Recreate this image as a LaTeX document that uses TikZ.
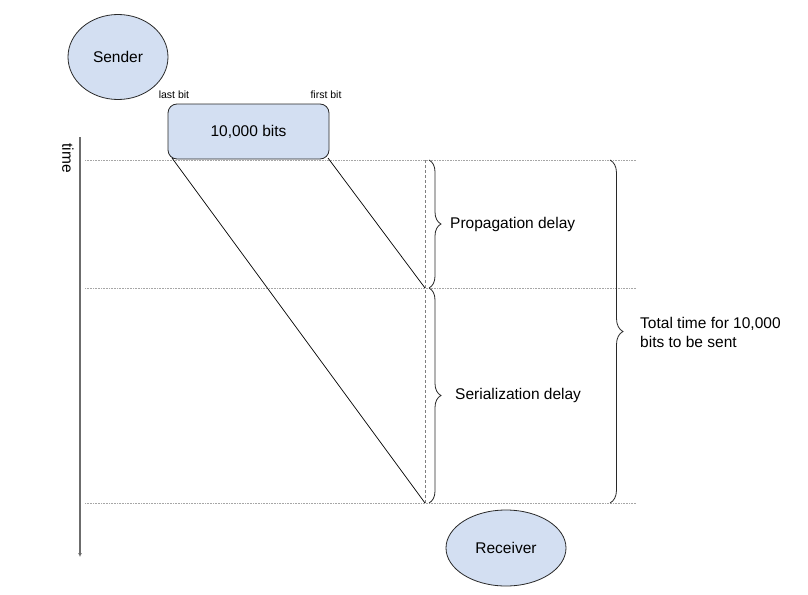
\documentclass[tikz,border=0pt]{standalone}
\usepackage{fontspec}
\setmainfont{Liberation Sans}
\usetikzlibrary{decorations.pathreplacing,arrows.meta,shapes.geometric}
\definecolor{fillblue}{RGB}{211,223,242}
\definecolor{edge}{RGB}{40,40,40}
\tikzset{
  blob/.style={draw=edge, line width=0.8pt, fill=fillblue, shape=ellipse, inner sep=0pt},
  bitsbox/.style={draw=edge, line width=0.8pt, fill=fillblue, rounded corners=9pt, minimum width=161pt, minimum height=55pt, font=\fontsize{15.5}{18}\selectfont},
  lbl/.style={font=\fontsize{15.5}{19}\selectfont, inner sep=0pt},
  small/.style={font=\fontsize{10.5}{12}\selectfont, inner sep=0pt},
  guide/.style={densely dotted, draw=gray!70, line width=0.6pt},
  bracestyle/.style={draw=edge, line width=0.8pt, decorate},
  travel/.style={draw=black, line width=0.7pt},
}
\begin{document}
\begin{tikzpicture}[x=1pt,y=-1pt]
\useasboundingbox (0,0) rectangle (808,594);
% nodes
\node[blob, minimum width=100pt, minimum height=85pt, lbl] (sender) at (118,57) {Sender};
\node[blob, minimum width=120pt, minimum height=76pt, lbl] (receiver) at (506,548) {Receiver};
\node[bitsbox] (bits) at (248.5,131.5) {10,000 bits};
\node[small] (lastbit) at (174,95) {last bit};
\node[small] (firstbit) at (326,95) {first bit};
\node[lbl, rotate=-90] (time) at (68,158) {time};
\node[lbl, anchor=west] (prop) at (450,224) {Propagation delay};
\node[lbl, anchor=west] (ser) at (455,395) {Serialization delay};
\node[lbl, anchor=west, align=left] (total) at (640,332) {Total time for 10,000\\bits to be sent};
% coordinates
\coordinate (tA) at (80,137);
\coordinate (tB) at (80,557);
\coordinate (g1a) at (85,160); \coordinate (g1b) at (636,160);
\coordinate (g2a) at (85,288); \coordinate (g2b) at (636,288);
\coordinate (g3a) at (85,503); \coordinate (g3b) at (636,503);
\coordinate (lastS) at (172,158);
\coordinate (firstS) at (328,158);
\coordinate (arrP) at (425,288);
\coordinate (arrS) at (425,503);
\coordinate (dA) at (425,160);
\coordinate (b1a) at (429,160); \coordinate (b1b) at (429,288);
\coordinate (b2a) at (429,288); \coordinate (b2b) at (429,503);
\coordinate (b3a) at (610,160); \coordinate (b3b) at (610,503);
% guides
\draw[guide] (g1a) -- (g1b);
\draw[guide] (g2a) -- (g2b);
\draw[guide] (g3a) -- (g3b);
% time axis
\draw[draw=gray!85!black, line width=1.2pt, -{Latex[length=4pt,width=4pt]}] (tA) -- (tB);
% dashed
\draw[draw=gray, line width=0.9pt, dash pattern=on 3pt off 2pt] (dA) -- (arrS);
% travel lines
\draw[travel] (lastS) -- (arrS);
\draw[travel] (firstS) -- (arrP);
% braces
\draw[bracestyle, decoration={brace, mirror, amplitude=12pt, aspect=0.5}] (b1b) -- (b1a);
\draw[bracestyle, decoration={brace, mirror, amplitude=12pt, aspect=0.5}] (b2b) -- (b2a);
\draw[bracestyle, decoration={brace, mirror, amplitude=13pt, aspect=0.5}] (b3b) -- (b3a);
\end{tikzpicture}
\end{document}
